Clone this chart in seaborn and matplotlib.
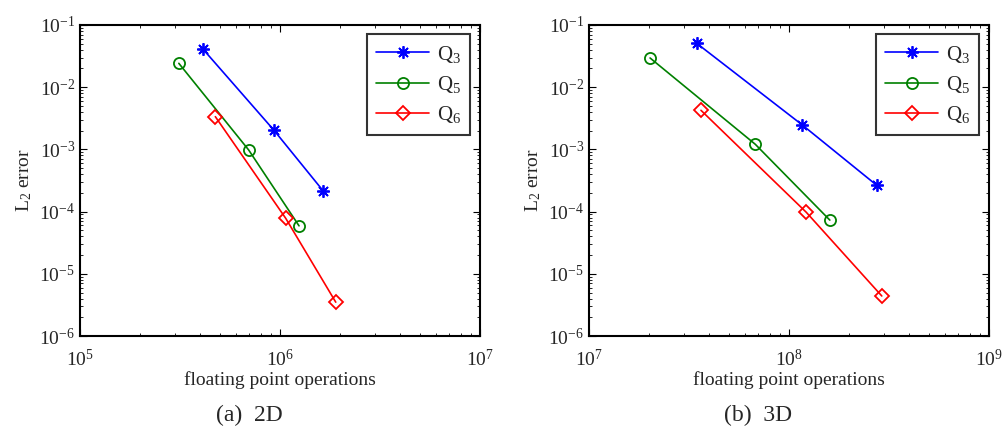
import matplotlib
matplotlib.use("Agg")
import matplotlib.pyplot as plt
import seaborn as sns
import pandas as pd
import numpy as np
from matplotlib.ticker import LogLocator, NullFormatter

sns.set_style("ticks")
plt.rcParams['font.family'] = ['Liberation Serif', 'DejaVu Serif']
plt.rcParams['mathtext.fontset'] = 'custom'
plt.rcParams['mathtext.rm'] = 'Liberation Serif'
plt.rcParams['mathtext.it'] = 'Liberation Serif:italic'

series = ["Q3", "Q5", "Q6"]
labels = [r"$\mathrm{Q}_3$", r"$\mathrm{Q}_5$", r"$\mathrm{Q}_6$"]
colors = ["#0000ff", "#008000", "#ff0000"]
markers = [(8, 2, 0), "o", "D"]

# 2D data
flops_2d_q3 = [4.12e5, 9.33e5, 1.65e6]
err_2d_q3 = [4.1e-2, 2.03e-3, 2.12e-4]
flops_2d_q5 = [3.12e5, 6.97e5, 1.245e6]
err_2d_q5 = [2.42e-2, 9.8e-4, 5.9e-5]
flops_2d_q6 = [4.75e5, 1.068e6, 1.90e6]
err_2d_q6 = [3.36e-3, 7.8e-5, 3.5e-6]

# 3D data
flops_3d_q3 = [3.455e7, 1.16e8, 2.745e8]
err_3d_q3 = [5.08e-2, 2.5e-3, 2.65e-4]
flops_3d_q5 = [2.02e7, 6.78e7, 1.60e8]
err_3d_q5 = [2.95e-2, 1.21e-3, 7.3e-5]
flops_3d_q6 = [3.63e7, 1.22e8, 2.91e8]
err_3d_q6 = [4.25e-3, 9.75e-5, 4.4e-6]

panels = [
    ([flops_2d_q3, flops_2d_q5, flops_2d_q6], [err_2d_q3, err_2d_q5, err_2d_q6], (1e5, 1e7), "(a)  2D"),
    ([flops_3d_q3, flops_3d_q5, flops_3d_q6], [err_3d_q3, err_3d_q5, err_3d_q6], (1e7, 1e9), "(b)  3D"),
]

fig = plt.figure(figsize=(10.02, 4.30), dpi=100)
lefts = [80 / 1002, 589 / 1002]
caption_x = [249 / 1002, 758 / 1002]

for i, (xs, ys, xlim, cap) in enumerate(panels):
    ax = fig.add_axes([lefts[i], 94 / 430, 400 / 1002, 311 / 430])
    for s, lab, c, m, x, y in zip(series, labels, colors, markers, xs, ys):
        df = pd.DataFrame({"flops": x, "err": y})
        ms = 9 if m != "o" and m != "D" else (8 if m == "o" else 7)
        sns.lineplot(data=df, x="flops", y="err", ax=ax, color=c, marker=m,
                     markersize=ms, markerfacecolor="none", markeredgecolor=c,
                     markeredgewidth=1.3, linewidth=1.2, label=lab, sort=False)
    ax.set_xscale("log")
    ax.set_yscale("log")
    ax.set_xlim(*xlim)
    ax.set_ylim(1e-6, 1e-1)
    ax.yaxis.set_major_locator(LogLocator(base=10, numticks=10))
    ax.yaxis.set_minor_locator(LogLocator(base=10, subs=np.arange(2, 10), numticks=20))
    ax.xaxis.set_minor_locator(LogLocator(base=10, subs=np.arange(2, 10), numticks=20))
    ax.yaxis.set_minor_formatter(NullFormatter())
    ax.xaxis.set_minor_formatter(NullFormatter())
    ax.tick_params(which="both", direction="in", top=True, right=True, labelsize=14, color="black")
    ax.tick_params(which="major", length=5, width=0.8)
    ax.tick_params(which="minor", length=2.5, width=0.6)
    ax.tick_params(axis="x", pad=9)
    for sp in ax.spines.values():
        sp.set_linewidth(1.5)
        sp.set_color("black")
    ax.set_xlabel("floating point operations", fontsize=14, labelpad=1)
    ax.set_ylabel(r"$\mathrm{L}_2$ error", fontsize=14, labelpad=4)
    leg = ax.legend(loc="upper right", bbox_to_anchor=(0.976, 0.97), fontsize=15,
                    frameon=True, fancybox=False, edgecolor="black",
                    handlelength=2.5, handletextpad=0.4, borderpad=0.45,
                    labelspacing=0.45, borderaxespad=0)
    leg.get_frame().set_linewidth(1.5)
    fig.text(caption_x[i], 15 / 430, cap, ha="center", va="center", fontsize=17)

fig.savefig("out.png", dpi=100)
